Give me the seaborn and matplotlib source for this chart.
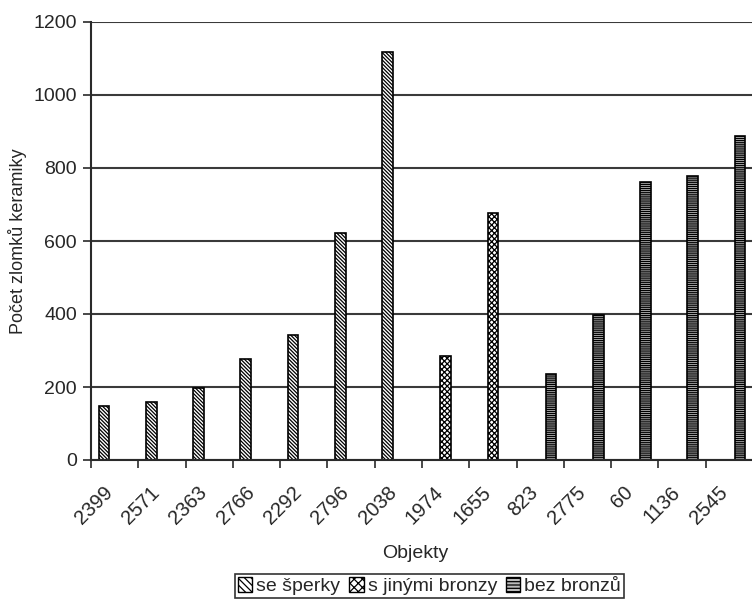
import seaborn as sns
import pandas as pd
import matplotlib.pyplot as plt
import matplotlib.patches as mpatches
import matplotlib.transforms as mtransforms

objekty = ['2399', '2571', '2363', '2766', '2292', '2796', '2038',
           '1974', '1655', '823', '2775', '60', '1136', '2545']
pocet = [147, 160, 197, 277, 342, 622, 1118,
         286, 678, 236, 397, 763, 777, 889]
skupina = ['se šperky'] * 7 + ['s jinými bronzy'] * 2 + ['bez bronzů'] * 5
skupiny = ['se šperky', 's jinými bronzy', 'bez bronzů']
srafy = ['\\' * 9, 'x' * 6, '-' * 8]
vyplne = ['white', 'white', '#bbbbbb']

df = pd.DataFrame({'Objekt': objekty, 'Pocet': pocet, 'Skupina': skupina})

sns.set_style('white')
plt.rcParams['font.family'] = ['Liberation Sans', 'DejaVu Sans']
plt.rcParams['hatch.linewidth'] = 0.9

fig = plt.figure(figsize=(7.52, 6.05), dpi=100)
ax = fig.add_axes([91 / 752, 1 - 460 / 605, 662 / 752, 438 / 605])

sns.barplot(data=df, x='Objekt', y='Pocet', hue='Skupina', order=objekty,
            hue_order=skupiny, palette=['white'] * 3, width=0.68,
            edgecolor='black', linewidth=1.2, dodge=True, legend=False, ax=ax)

for cont, h, c in zip(ax.containers, srafy, vyplne):
    for bar in cont:
        bar.set_hatch(h)
        bar.set_facecolor(c)

ax.set_xlim(-0.5, len(objekty) - 0.5)
ax.set_ylim(0, 1200)
ax.set_yticks(range(0, 1201, 200))
ax.yaxis.grid(True, color='#3a3a3a', linewidth=1.5)
ax.set_axisbelow(True)
for s in ['top', 'right']:
    ax.spines[s].set_visible(False)
for s in ['left', 'bottom']:
    ax.spines[s].set_color('#2a2a2a')
    ax.spines[s].set_linewidth(1.5)

ax.tick_params(axis='y', direction='out', length=6, width=1.2, color='#2a2a2a',
               labelsize=14, left=True, pad=4)
ax.set_xticks(range(len(objekty)))
ax.set_xticklabels(objekty, rotation=45, ha='right', va='center',
                   rotation_mode='anchor', fontsize=14.5)
ax.tick_params(axis='x', length=0, pad=21)
ax.set_xticks([i - 0.5 for i in range(len(objekty) + 1)], minor=True)
ax.tick_params(axis='x', which='minor', direction='out', length=6, width=1.2,
               color='#2a2a2a', bottom=True)
shift = mtransforms.ScaledTranslation(-5 / 100, 0, fig.dpi_scale_trans)
for lab in ax.get_xticklabels():
    lab.set_transform(lab.get_transform() + shift)

ax.set_xlabel('Objekty', fontsize=14)
ax.xaxis.set_label_coords(0.49, -0.195)
ax.set_ylabel('Počet zlomků keramiky', fontsize=13)
ax.yaxis.set_label_coords(-0.097, 0.5)

handles = [mpatches.Patch(facecolor=c, edgecolor='black', hatch=h, label=s)
           for s, h, c in zip(skupiny, ['\\\\\\\\\\', 'xxxx', '-----'], vyplne)]
leg = fig.legend(handles=handles, loc='center', bbox_to_anchor=(0.571, 0.031),
                 ncol=3, fontsize=14, handlelength=0.75, handleheight=0.75,
                 handletextpad=0.2, columnspacing=0.45, borderpad=0.15,
                 borderaxespad=0, fancybox=False, frameon=True, edgecolor='black')
leg.get_frame().set_linewidth(1.2)

fig.savefig('out.png', dpi=100)
